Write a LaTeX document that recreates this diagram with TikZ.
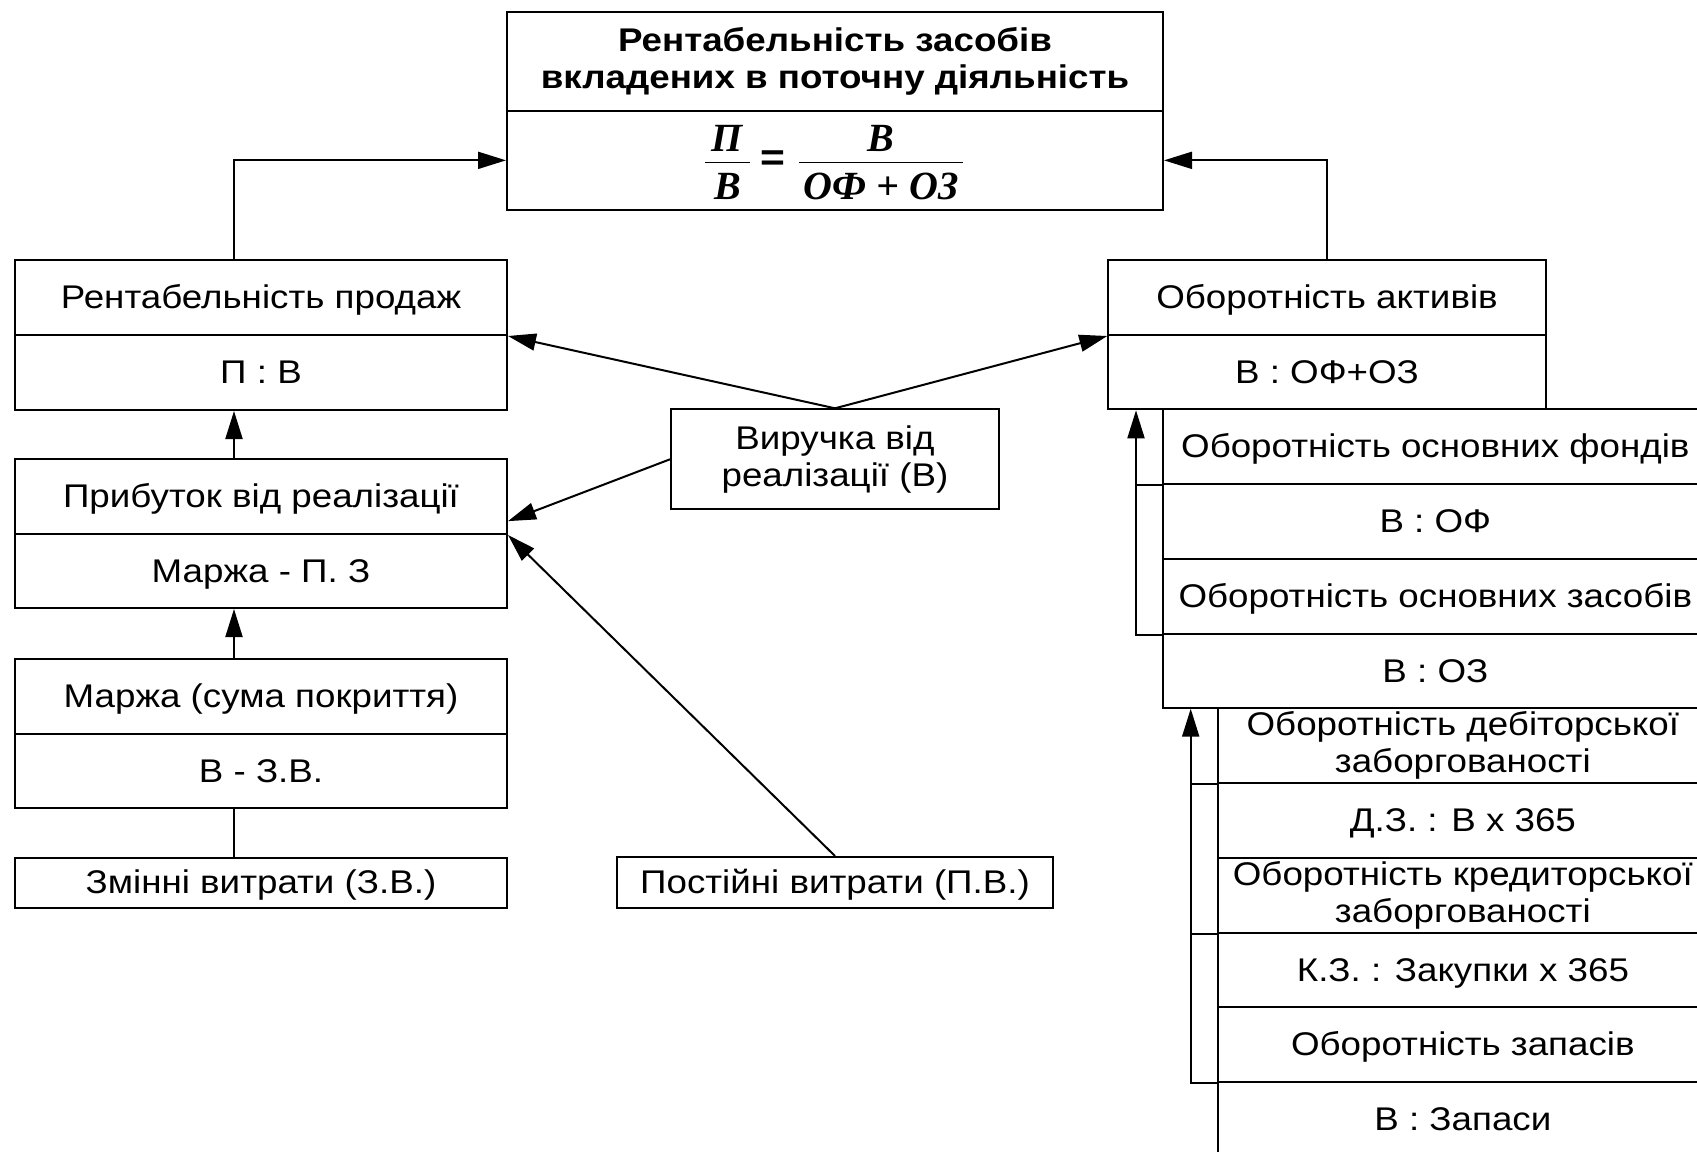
\documentclass[tikz,border=0pt]{standalone}
\usepackage{fontspec}
\setmainfont{Liberation Sans}[FakeStretch=1.12]
\newfontfamily\formulafont{Liberation Serif}
\usetikzlibrary{arrows.meta,fit,calc}

% a framed cell spanning two corners, with one line of text on its middle
\newcommand\onecell[6]{%
  \node[cellbox, fit={(#2,#3) (#4,#5)}] (#1) {};
  \node[celltext, anchor=base] (#1t) at ($(#1.center)+(0,11)$) {#6};}
% a framed cell with text of several lines
\newcommand\twocell[6]{%
  \node[cellbox, fit={(#2,#3) (#4,#5)}] (#1) {};
  \node[celltext] (#1t) at (#1.center) {#6};}

\begin{document}
\begin{tikzpicture}[x=0.5pt,y=-0.5pt,
  cellbox/.style={draw, line width=1pt, inner sep=0pt},
  celltext/.style={inner sep=0pt, align=center,
    font=\fontsize{16.4pt}{18.5pt}\selectfont},
  titletext/.style={celltext, font=\fontsize{16.4pt}{18.7pt}\selectfont\bfseries},
  formula/.style={inner sep=0pt, font=\formulafont\bfseries\itshape\fontsize{20pt}{22pt}\selectfont},
  conn/.style={line width=1pt},
  arr/.style={conn, -{Triangle[length=14pt,width=8.5pt]}},
  bar/.style={line width=0.8pt}]

\path[use as bounding box] (0,0) rectangle (1697,1151);
\clip (0,0) rectangle (1697,1151);

% headline block with the ratio
\node[cellbox, fit={(507,11.5) (1163,110.7)}] (t1) {};
\node[titletext] (t1t) at (t1.center)
  {Рентабельність засобів\\вкладених в поточну діяльність};
\node[cellbox, fit={(507,110.7) (1163,210)}] (t2) {};
\node[formula, anchor=base] (fP) at (727.5,151.7) {П};
\node[formula, anchor=base] (fB) at (727.5,199) {В};
\node[inner sep=0pt, anchor=base, font=\fontsize{19pt}{21pt}\selectfont\bfseries] (feq) at (773,170) {=};
\node[formula, anchor=base] (fBn) at (881,151.7) {В};
\node[formula, anchor=base] (fden) at (881,199) {ОФ + ОЗ};
\coordinate (barLa) at (705,162.3);
\coordinate (barLb) at (750,162.3);
\coordinate (barRa) at (799,162.3);
\coordinate (barRb) at (963.3,162.3);
\draw[bar] (barLa) -- (barLb);
\draw[bar] (barRa) -- (barRb);

% left column
\onecell{rp1}{15}{260}{507}{335}{Рентабельність продаж}
\onecell{rp2}{15}{335}{507}{410}{П : В}
\onecell{pr1}{15}{459}{507}{534}{Прибуток від реалізації}
\onecell{pr2}{15}{534}{507}{608}{Маржа - П. З}
\onecell{mz1}{15}{659}{507}{734}{Маржа (сума покриття)}
\onecell{mz2}{15}{734}{507}{808}{В - З.В.}
\onecell{zv}{15}{858}{507}{907.5}{Змінні витрати (З.В.)}

% middle
\twocell{vyr}{671}{409.3}{999}{509.3}{Виручка від\\реалізації (В)}
\onecell{pv}{617}{857}{1053}{907.7}{Постійні витрати (П.В.)}

% right block
\onecell{oa1}{1108.3}{260}{1545.7}{335}{Оборотність активів}
\onecell{oa2}{1108.3}{335}{1545.7}{409.3}{В : ОФ+ОЗ}

\onecell{of1}{1162.7}{409.3}{1708}{484.3}{Оборотність основних фондів}
\onecell{of2}{1162.7}{484.3}{1708}{559}{В : ОФ}
\onecell{os1}{1162.7}{559}{1708}{634.3}{Оборотність основних засобів}
\onecell{os2}{1162.7}{634.3}{1708}{707.7}{В : ОЗ}

\twocell{db1}{1217.7}{707.7}{1708}{783.3}{Оборотність дебіторської\\заборгованості}
\onecell{db2}{1217.7}{783.3}{1708}{857.7}{Д.З. : В х 365}
\twocell{kr1}{1217.7}{857.7}{1708}{933.3}{Оборотність кредиторської\\заборгованості}
\onecell{kr2}{1217.7}{933.3}{1708}{1006.7}{К.З. : Закупки х 365}
\onecell{zp1}{1217.7}{1006.7}{1708}{1082.3}{Оборотність запасів}
\onecell{zp2}{1217.7}{1082.3}{1708}{1157}{В : Запаси}

% vertical spines of the connectors
\coordinate (sL) at (234,0);
\coordinate (sR1) at (1136,0);
\coordinate (sR2) at (1190.7,0);

% connectors
\draw[arr] (rp1.north -| sL) |- (t2.west);
\draw[arr] (oa1.north) |- (t2.east);
\draw[arr] (pr1.north -| sL) -- (rp2.south -| sL);
\draw[arr] (mz1.north -| sL) -- (pr2.south -| sL);
\draw[conn] (zv.north -| sL) -- (mz2.south -| sL);

\draw[arr] (vyr.north) -- (rp1.south east);
\draw[arr] (vyr.north) -- (oa1.south west);
\draw[arr] (vyr.west) -- ($(pr1.east)!0.64!(pr1.south east)$);
\draw[arr] (pv.north) -- (pr1.south east);

\draw[arr] (os1.south west) -| (oa2.south -| sR1);
\draw[conn] (of1.south west) -- (of1.south -| sR1);

\draw[arr] (zp1.south west) -| (os2.south -| sR2);
\draw[conn] (db1.south west) -- (db1.south -| sR2);
\draw[conn] (kr1.south west) -- (kr1.south -| sR2);
\end{tikzpicture}
\end{document}
